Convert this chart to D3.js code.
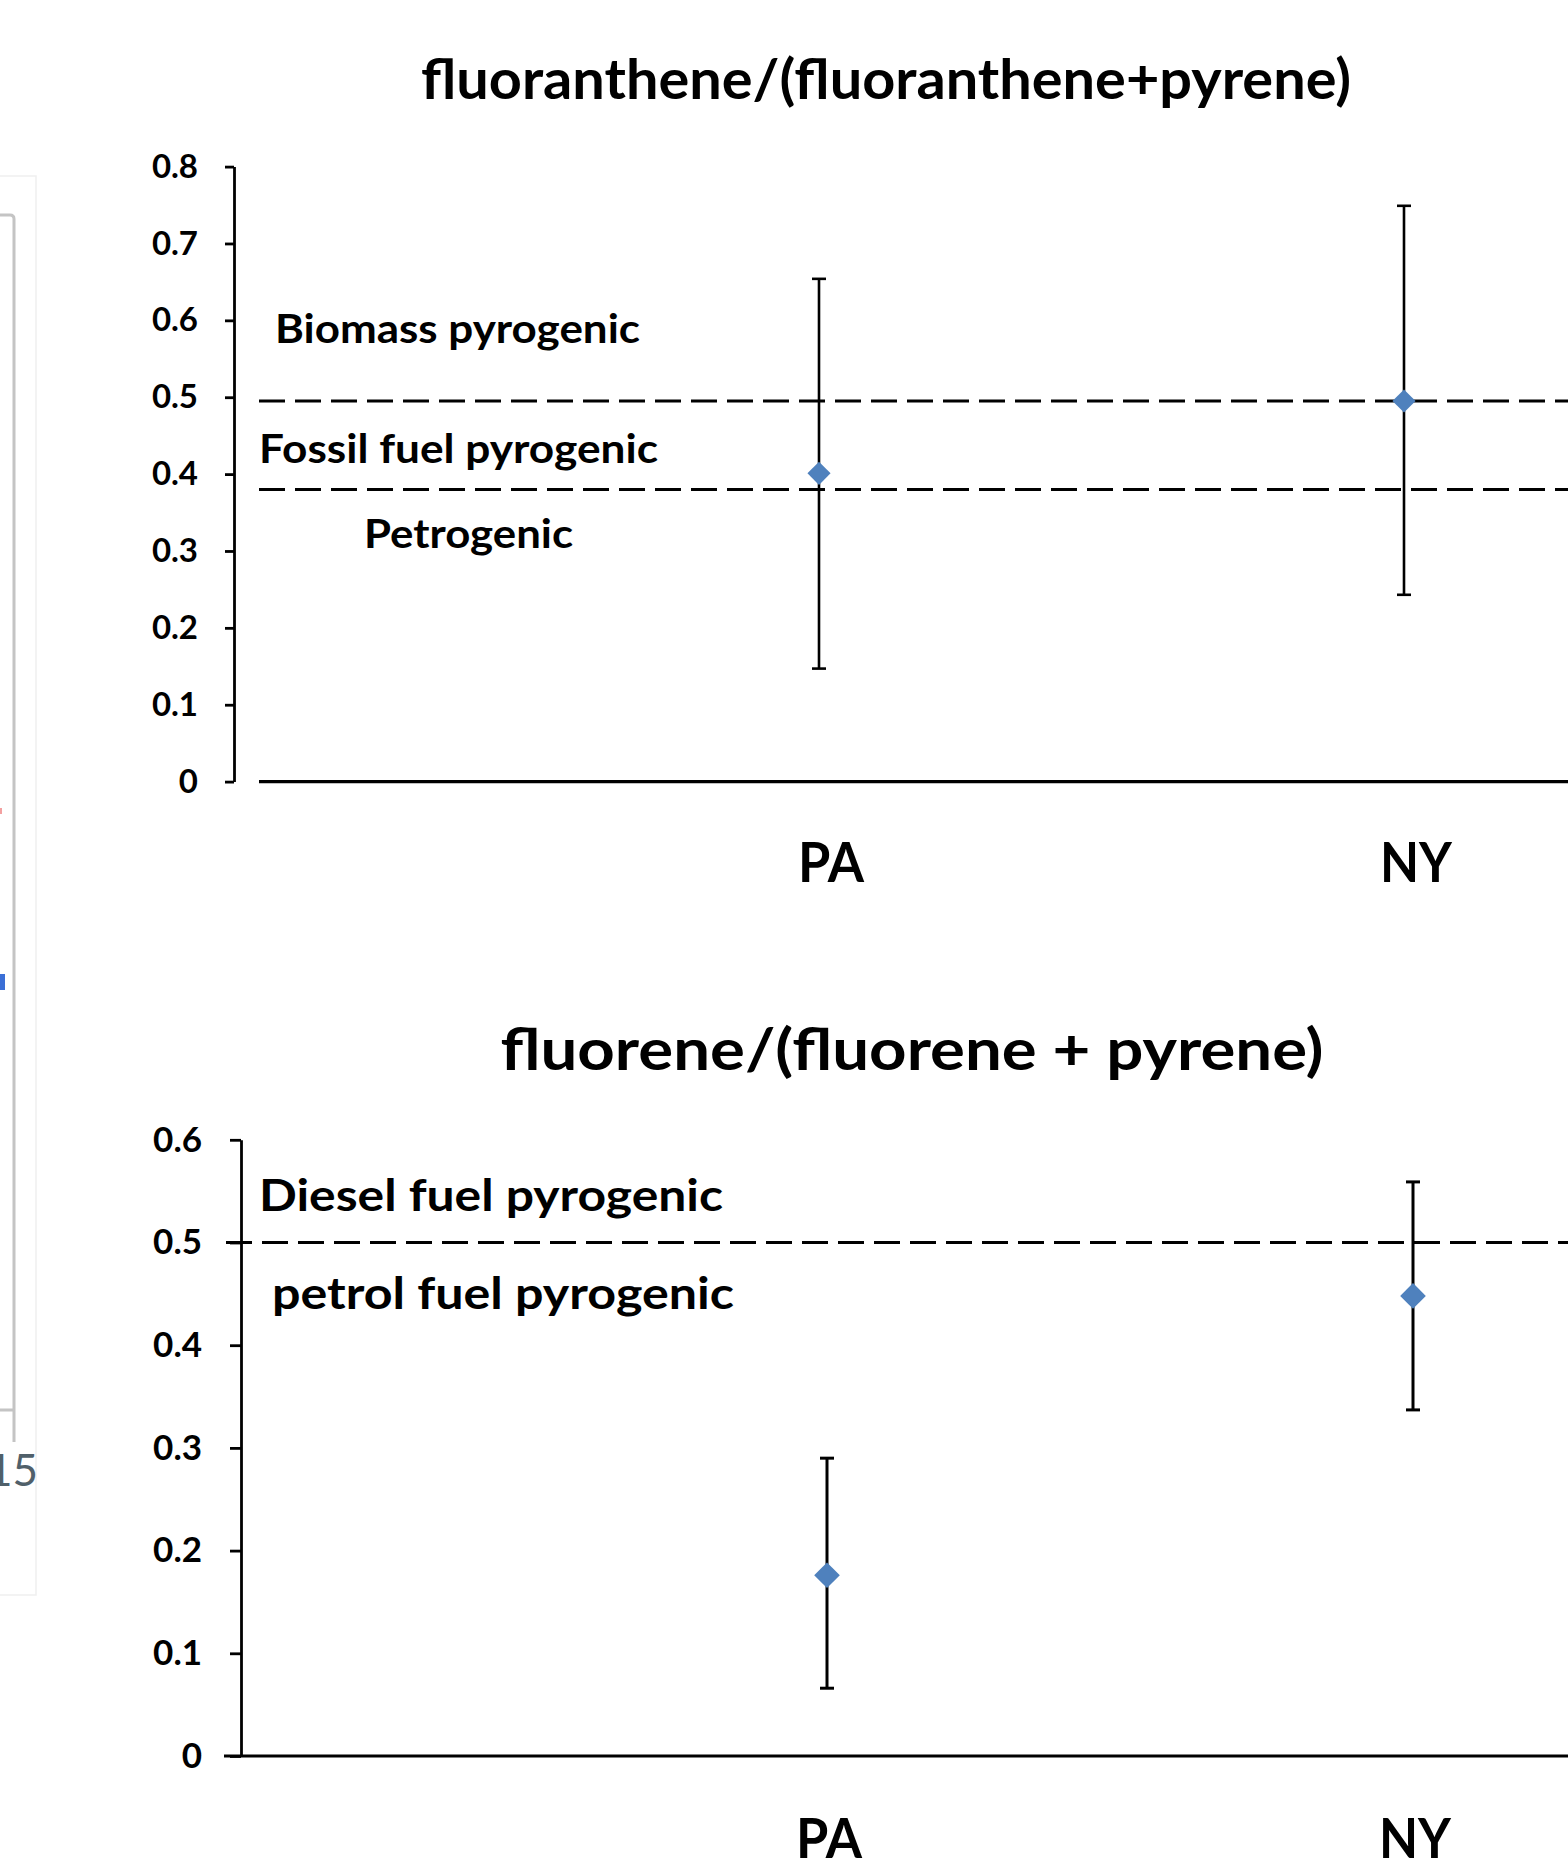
<!DOCTYPE html>
<html>
<head>
<meta charset="utf-8">
<script src="https://cdn.jsdelivr.net/npm/d3@7"></script>
<style>
  body { margin: 0; background: #fff; }
  text { font-family: Lato, "Open Sans", sans-serif; font-weight: bold; fill: #000; }
</style>
</head>
<body>
<div id="chart"></div>
<script>
// values
const sites = ["PA", "NY"];

const flaMean = [0.401, 0.495];
const flaLow = [0.147, 0.243];
const flaHigh = [0.654, 0.749];
const flaThresholds = [0.495, 0.38];
const flaTicks = [0, 0.1, 0.2, 0.3, 0.4, 0.5, 0.6, 0.7, 0.8];
const flaZones = ["Biomass pyrogenic", "Fossil fuel pyrogenic", "Petrogenic"];

const fluMean = [0.176, 0.448];
const fluLow = [0.066, 0.337];
const fluHigh = [0.29, 0.559];
const fluThresholds = [0.5];
const fluTicks = [0, 0.1, 0.2, 0.3, 0.4, 0.5, 0.6];
const fluZones = ["Diesel fuel pyrogenic", "petrol fuel pyrogenic"];

const width = 1568;
const height = 1866;
const blue = "#4F81BD";

const svg = d3.select("#chart").append("svg")
    .attr("width", width)
    .attr("height", height)
    .attr("viewBox", [0, 0, width, height]);

// cropped edge of the neighbouring figure on the left
const edge = svg.append("g").attr("fill", "none");
edge.append("path")
    .attr("d", "M0,176 H36 V1595 H0")
    .attr("stroke", "#f0f0f0").attr("stroke-width", 1.5);
edge.append("path")
    .attr("d", "M0,215 H10 Q14,215 14,219 V1442 M0,1410 H14")
    .attr("stroke", "#c4c4c4").attr("stroke-width", 3);
edge.append("rect").attr("x", 0).attr("y", 808).attr("width", 2).attr("height", 6).attr("fill", "#f3a0a0");
edge.append("rect").attr("x", 0).attr("y", 974).attr("width", 5).attr("height", 16).attr("fill", "#3b6fd6");
svg.append("text")
    .attr("x", 38).attr("y", 1486)
    .attr("text-anchor", "end")
    .style("font-size", "44px").style("font-weight", "normal").style("fill", "#50606a")
    .text("15");

function panel(opt) {
    const g = svg.append("g");
    const data = sites.map((s, i) => ({site: s, mean: opt.mean[i], low: opt.low[i], high: opt.high[i]}));

    const y = d3.scaleLinear().domain([0, opt.yMax]).range([opt.bottom, opt.top]);
    const x = d3.scalePoint().domain(sites)
        .range([opt.axisX, opt.axisX + opt.step * 3]).padding(1);

    // title
    g.append("text")
        .attr("x", opt.titleX).attr("y", opt.titleY)
        .attr("text-anchor", "middle")
        .attr("textLength", opt.titleLen).attr("lengthAdjust", "spacingAndGlyphs")
        .style("font-size", opt.titleSize + "px")
        .text(opt.title);

    // y axis
    const ax = g.append("g")
        .attr("transform", `translate(${opt.axisX},0)`)
        .call(d3.axisLeft(y).tickValues(opt.ticks).tickSize(opt.tickLen).tickSizeOuter(0)
            .tickPadding(opt.tickPad)
            .tickFormat(d => String(+d.toFixed(1))));
    ax.select(".domain").attr("stroke", "#000").attr("stroke-width", 2.8);
    ax.selectAll(".tick line").attr("stroke", "#000").attr("stroke-width", 2.8);
    ax.selectAll(".tick text")
        .attr("font-family", null).attr("font-size", null)
        .style("font-size", opt.tickSize + "px");

    // x axis line
    g.append("line")
        .attr("x1", opt.baseStart).attr("x2", width)
        .attr("y1", y(0)).attr("y2", y(0))
        .attr("stroke", "#000").attr("stroke-width", 3.2);

    // threshold lines
    g.selectAll(".thr").data(opt.thresholds).join("line")
        .attr("x1", opt.dashStart).attr("x2", width)
        .attr("y1", d => y(d)).attr("y2", d => y(d))
        .attr("stroke", "#000").attr("stroke-width", 3)
        .attr("stroke-dasharray", "26 10");

    // zone labels
    g.selectAll(".zone").data(opt.zones).join("text")
        .attr("x", (d, i) => opt.zoneX[i])
        .attr("y", (d, i) => y(opt.zoneY[i]))
        .attr("textLength", (d, i) => opt.zoneLen[i]).attr("lengthAdjust", "spacingAndGlyphs")
        .style("font-size", opt.zoneSize + "px")
        .text(d => d);

    // error bars
    const eb = g.selectAll(".eb").data(data).join("g");
    eb.append("line")
        .attr("x1", d => x(d.site)).attr("x2", d => x(d.site))
        .attr("y1", d => y(d.low)).attr("y2", d => y(d.high))
        .attr("stroke", "#000").attr("stroke-width", opt.barWidth);
    eb.append("line")
        .attr("x1", d => x(d.site) - 7).attr("x2", d => x(d.site) + 7)
        .attr("y1", d => y(d.high)).attr("y2", d => y(d.high))
        .attr("stroke", "#000").attr("stroke-width", opt.barWidth);
    eb.append("line")
        .attr("x1", d => x(d.site) - 7).attr("x2", d => x(d.site) + 7)
        .attr("y1", d => y(d.low)).attr("y2", d => y(d.low))
        .attr("stroke", "#000").attr("stroke-width", opt.barWidth);

    // mean markers
    g.selectAll(".pt").data(data).join("path")
        .attr("transform", d => `translate(${x(d.site)},${y(d.mean)})`)
        .attr("d", d3.symbol(d3.symbolDiamond2, opt.markerSize))
        .attr("fill", blue);

    // category labels
    g.selectAll(".cat").data(data).join("text")
        .attr("x", d => x(d.site) + opt.catDx)
        .attr("y", y(0) + opt.catDy)
        .attr("text-anchor", "middle")
        .attr("textLength", d => d.site === "PA" ? 66 : 72).attr("lengthAdjust", "spacingAndGlyphs")
        .style("font-size", "56px")
        .text(d => d.site);
}

panel({
    title: "fluoranthene/(fluoranthene+pyrene)",
    titleX: 886, titleY: 99, titleLen: 930, titleSize: 56,
    mean: flaMean, low: flaLow, high: flaHigh,
    thresholds: flaThresholds, ticks: flaTicks, yMax: 0.8,
    top: 166.6, bottom: 781.6,
    axisX: 234, step: 585, tickLen: 9, tickPad: 27, tickSize: 33,
    baseStart: 259, dashStart: 259, barWidth: 2.6,
    zones: flaZones, zoneX: [275, 259, 364], zoneY: [0.57, 0.414, 0.304],
    zoneLen: [365, 399, 209], zoneSize: 41,
    markerSize: 340, catDx: 12, catDy: 100
});

panel({
    title: "fluorene/(fluorene + pyrene)",
    titleX: 912, titleY: 1070, titleLen: 823, titleSize: 58,
    mean: fluMean, low: fluLow, high: fluHigh,
    thresholds: fluThresholds, ticks: fluTicks, yMax: 0.6,
    top: 1139.8, bottom: 1756,
    axisX: 241, step: 586, tickLen: 11, tickPad: 28, tickSize: 35,
    baseStart: 224, dashStart: 226, barWidth: 3,
    zones: fluZones, zoneX: [259, 272], zoneY: [0.531, 0.435],
    zoneLen: [464, 462], zoneSize: 43,
    markerSize: 420, catDx: 2, catDy: 102
});
</script>
</body>
</html>
